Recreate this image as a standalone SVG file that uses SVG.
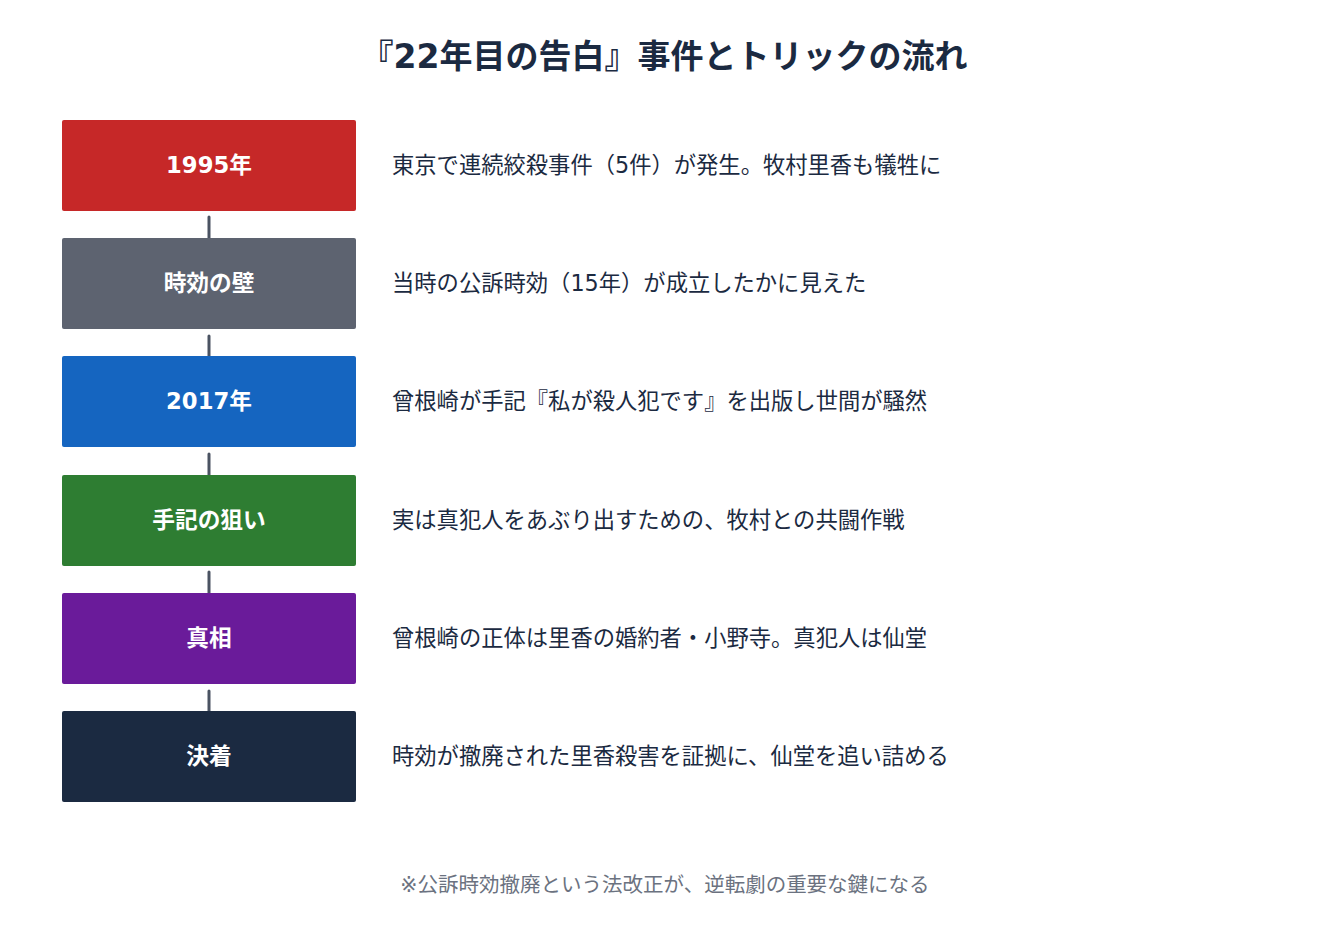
<svg xmlns="http://www.w3.org/2000/svg" width="1329" height="937" viewBox="0 0 1329 937">
<style>
text{font-family:"DejaVu Sans","Noto Sans CJK JP",sans-serif}
.title{font-size:33px;font-weight:bold;fill:#1b2a41}
.lbl{font-size:22.7px;font-weight:bold;fill:#ffffff}
.desc{font-size:22.3px;fill:#1b2a41}
.note{font-size:20.5px;fill:#6b7280}
.conn{stroke:#4a5362;stroke-width:3;stroke-linecap:round}
</style>
<rect width="1329" height="937" fill="#ffffff"/>
<text class="title" x="664" y="68" text-anchor="middle">『22年目の告白』事件とトリックの流れ</text>
<g id="connectors">
<line class="conn" x1="209" y1="217" x2="209" y2="238"/>
<line class="conn" x1="209" y1="336" x2="209" y2="356"/>
<line class="conn" x1="209" y1="454" x2="209" y2="475"/>
<line class="conn" x1="209" y1="572" x2="209" y2="593"/>
<line class="conn" x1="209" y1="691" x2="209" y2="711"/>
</g>
<g id="n1"><rect x="62" y="120" width="294" height="91" rx="2" fill="#c62828"/><text class="lbl" x="209" y="173" text-anchor="middle">1995年</text><text class="desc" x="392" y="173">東京で連続絞殺事件（5件）が発生。牧村里香も犠牲に</text></g>
<g id="n2"><rect x="62" y="238" width="294" height="91" rx="2" fill="#5d6370"/><text class="lbl" x="209" y="291" text-anchor="middle">時効の壁</text><text class="desc" x="392" y="291">当時の公訴時効（15年）が成立したかに見えた</text></g>
<g id="n3"><rect x="62" y="356" width="294" height="91" rx="2" fill="#1565c0"/><text class="lbl" x="209" y="409" text-anchor="middle">2017年</text><text class="desc" x="392" y="409">曾根崎が手記『私が殺人犯です』を出版し世間が騒然</text></g>
<g id="n4"><rect x="62" y="475" width="294" height="91" rx="2" fill="#2e7d32"/><text class="lbl" x="209" y="528" text-anchor="middle">手記の狙い</text><text class="desc" x="392" y="528">実は真犯人をあぶり出すための、牧村との共闘作戦</text></g>
<g id="n5"><rect x="62" y="593" width="294" height="91" rx="2" fill="#6a1b9a"/><text class="lbl" x="209" y="646" text-anchor="middle">真相</text><text class="desc" x="392" y="646">曾根崎の正体は里香の婚約者・小野寺。真犯人は仙堂</text></g>
<g id="n6"><rect x="62" y="711" width="294" height="91" rx="2" fill="#1b2a41"/><text class="lbl" x="209" y="764" text-anchor="middle">決着</text><text class="desc" x="392" y="764">時効が撤廃された里香殺害を証拠に、仙堂を追い詰める</text></g>
<text class="note" x="665" y="892" text-anchor="middle">※公訴時効撤廃という法改正が、逆転劇の重要な鍵になる</text>
</svg>
